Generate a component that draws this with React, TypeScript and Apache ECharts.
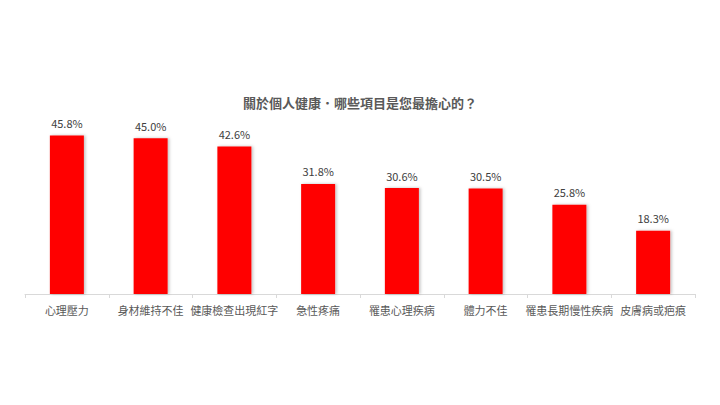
import { useEffect, useRef } from 'react';
import * as echarts from 'echarts';

const categories = [
  '心理壓力',
  '身材維持不佳',
  '健康檢查出現紅字',
  '急性疼痛',
  '罹患心理疾病',
  '體力不佳',
  '罹患長期慢性疾病',
  '皮膚病或疤痕',
];
const values = [45.8, 45.0, 42.6, 31.8, 30.6, 30.5, 25.8, 18.3];

const FONT = '"Noto Sans CJK TC", "Noto Sans", sans-serif';

export default function App() {
  const chartRef = useRef<HTMLDivElement>(null);

  useEffect(() => {
    if (!chartRef.current) return;
    const chart = echarts.init(chartRef.current, null, { renderer: 'svg' });

    chart.setOption({
      animation: false,
      backgroundColor: '#ffffff',
      title: {
        text: '關於個人健康．哪些項目是您最擔心的？',
        left: 'center',
        top: 91,
        textStyle: {
          fontFamily: FONT,
          fontSize: 13,
          fontWeight: 'bold',
          color: '#595959',
        },
      },
      grid: {
        left: 25,
        right: 25,
        top: 121,
        bottom: 111,
        containLabel: false,
      },
      xAxis: {
        type: 'category',
        data: categories,
        axisLine: { lineStyle: { color: '#d9d9d9', width: 1 } },
        axisTick: { show: true, length: 4, lineStyle: { color: '#d9d9d9' } },
        axisLabel: {
          interval: 0,
          margin: 10,
          fontFamily: FONT,
          fontSize: 11,
          color: '#595959',
        },
      },
      yAxis: {
        type: 'value',
        min: 0,
        max: 50,
        show: false,
        splitLine: { show: false },
      },
      series: [
        {
          type: 'bar',
          data: values,
          barWidth: 34,
          itemStyle: {
            color: '#ff0000',
            shadowColor: 'rgba(0,0,0,0.25)',
            shadowBlur: 3,
            shadowOffsetX: 1.5,
            shadowOffsetY: 0,
          },
          label: {
            show: true,
            position: 'top',
            distance: 7,
            formatter: (p: { value: number }) => p.value.toFixed(1) + '%',
            fontFamily: FONT,
            fontSize: 11,
            color: '#404040',
          },
        },
      ],
    });

    return () => {
      chart.dispose();
    };
  }, []);

  return (
    <div
      ref={chartRef}
      style={{ position: 'fixed', left: 0, top: 0, width: 720, height: 405 }}
    />
  );
}
